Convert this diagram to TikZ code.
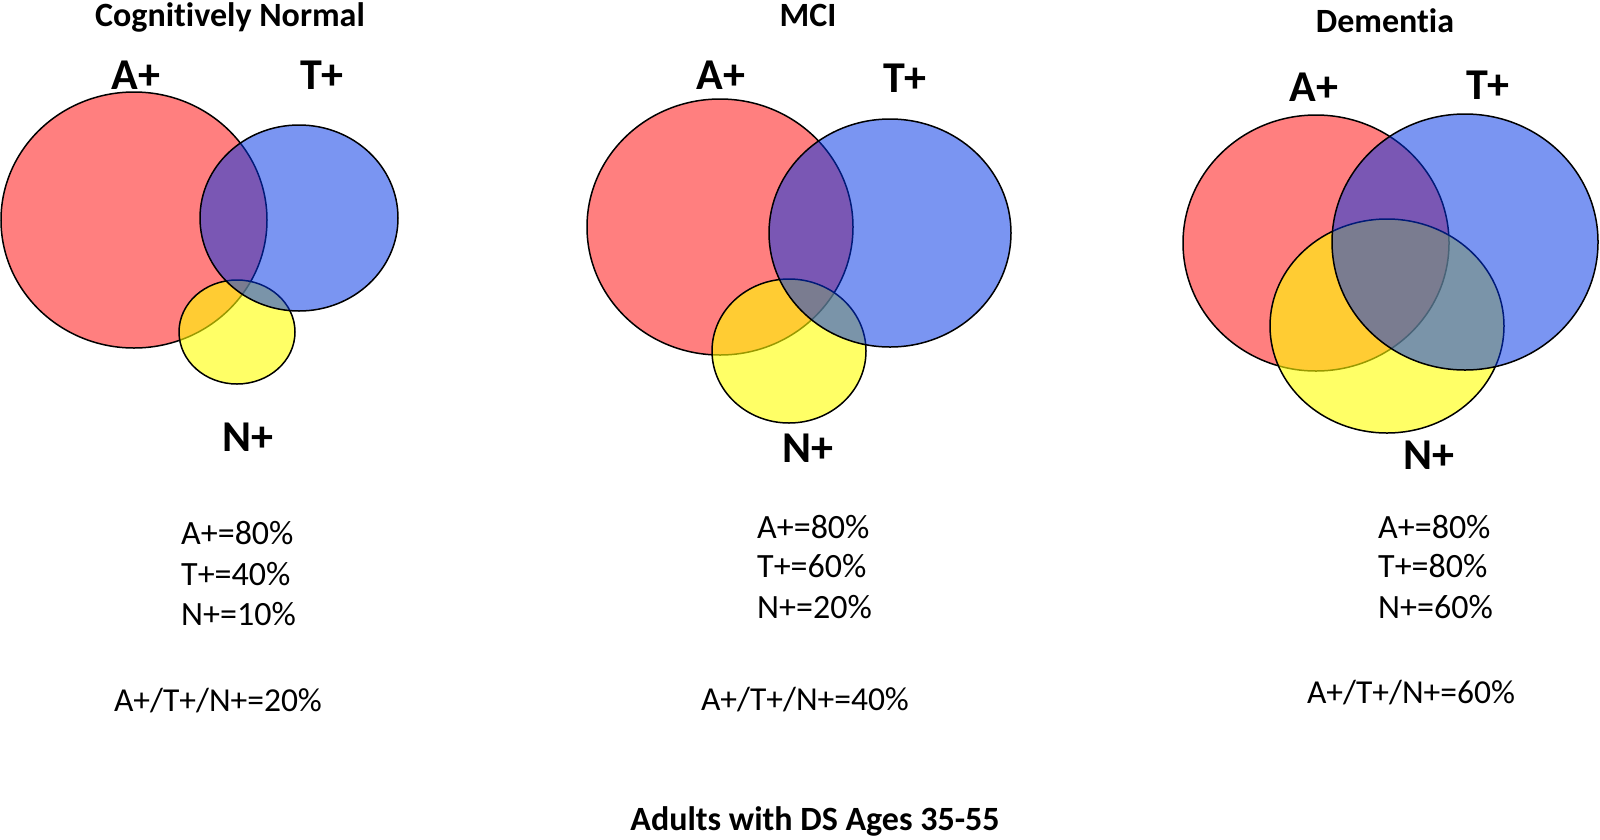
\documentclass[tikz,border=0pt]{standalone}
\usepackage{fontspec}
\setmainfont[Ligatures={NoCommon}]{Carlito}
\definecolor{cred}{RGB}{255,0,0}
\definecolor{cblue}{RGB}{0,51,230}
\definecolor{cyel}{RGB}{255,255,0}
\tikzset{
  setA/.style={draw=black, line width=1.5pt, fill=cred, fill opacity=0.5},
  setN/.style={draw=black, line width=1.5pt, fill=cyel, fill opacity=0.6},
  setT/.style={draw=black, line width=1.5pt, fill=cblue, fill opacity=0.52},
  ptitle/.style={font=\fontsize{34}{40}\selectfont\bfseries},
  setlbl/.style={font=\fontsize{44}{50}\selectfont\bfseries},
  stat/.style={font=\fontsize{34}{40}\selectfont, anchor=west, inner sep=0pt},
  combo/.style={font=\fontsize{33.5}{40}\selectfont, inner sep=0pt}
}
\begin{document}
\begin{tikzpicture}[x=1pt,y=-1pt]
\useasboundingbox (0,0) rectangle (1600,839);
% Panel 1: Cognitively Normal
\path[setA] (134,220) ellipse [x radius=133, y radius=128];
\path[setN] (237,332) ellipse [x radius=58, y radius=52];
\path[setT] (299,218) ellipse [x radius=99, y radius=93];
\node[ptitle] (t1) at (230,17) {Cognitively Normal};
\node[setlbl] (a1) at (136,75) {A+};
\node[setlbl] (b1) at (322,75) {T+};
\node[setlbl] (n1) at (248,437) {N+};
\node[stat] (s1a) at (181,533) {A+=80\%};
\node[stat] (s1b) at (181,574) {T+=40\%};
\node[stat] (s1c) at (181,614) {N+=10\%};
\node[combo] (c1) at (218,701) {A+/T+/N+=20\%};
% Panel 2: MCI
\path[setA] (720,227) ellipse [x radius=133, y radius=128];
\path[setN] (789,351) ellipse [x radius=77, y radius=72];
\path[setT] (890,233) ellipse [x radius=121, y radius=114];
\node[ptitle] (t2) at (808,15) {MCI};
\node[setlbl] (a2) at (721,75) {A+};
\node[setlbl] (b2) at (905,78) {T+};
\node[setlbl] (n2) at (808,448) {N+};
\node[stat] (s2a) at (757,527) {A+=80\%};
\node[stat] (s2b) at (757,566) {T+=60\%};
\node[stat] (s2c) at (757,607) {N+=20\%};
\node[combo] (c2) at (805,700) {A+/T+/N+=40\%};
% Panel 3: Dementia
\path[setA] (1316,243) ellipse [x radius=133, y radius=128];
\path[setN] (1387,326) ellipse [x radius=117, y radius=107];
\path[setT] (1465,242) ellipse [x radius=133, y radius=128];
\node[ptitle] (t3) at (1385,21) {Dementia};
\node[setlbl] (a3) at (1314,87) {A+};
\node[setlbl] (b3) at (1488,85) {T+};
\node[setlbl] (n3) at (1429,455) {N+};
\node[stat] (s3a) at (1378,527) {A+=80\%};
\node[stat] (s3b) at (1378,566) {T+=80\%};
\node[stat] (s3c) at (1378,607) {N+=60\%};
\node[combo] (c3) at (1411,693) {A+/T+/N+=60\%};
% Bottom title
\node[ptitle] (bt) at (815,821) {Adults with DS Ages 35-55};
\end{tikzpicture}
\end{document}
